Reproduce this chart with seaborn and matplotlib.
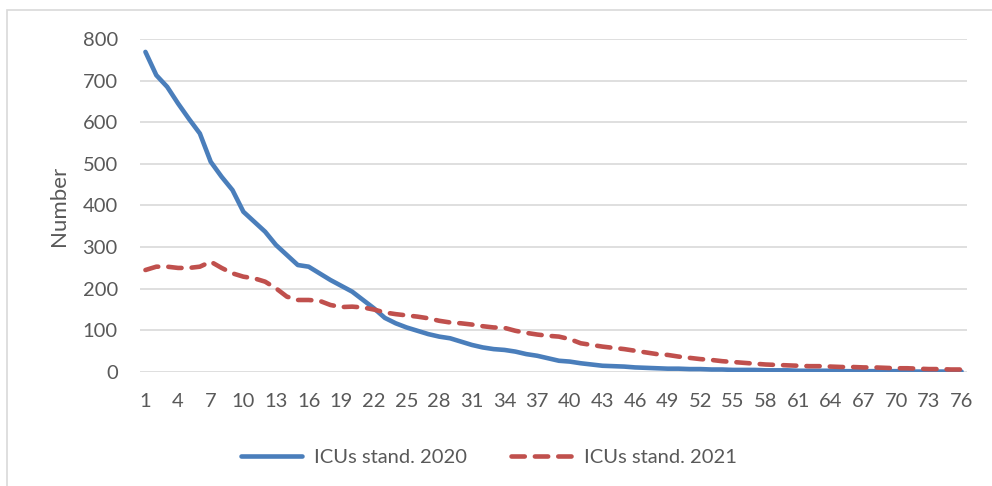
import matplotlib
matplotlib.use("Agg")
import matplotlib.pyplot as plt
import seaborn as sns
import pandas as pd
from matplotlib.patches import Rectangle
from matplotlib.lines import Line2D

# Daily ICU counts, days 1..76
days = list(range(1, 77))
icu_2020 = [769, 713, 685, 645, 608, 573, 505, 469, 437, 385,
            361, 337, 305, 281, 257, 253, 237, 221, 207, 193,
            173, 153, 130, 117, 107, 99, 91, 85, 81, 73,
            65, 59, 55, 53, 49, 43, 39, 33, 27, 25,
            21, 18, 15, 14, 13, 11, 10, 9, 8, 8,
            7, 7, 6, 6, 5, 5, 5, 4, 4, 4,
            3, 3, 3, 3, 2, 2, 2, 2, 2, 2,
            1, 1, 1, 1, 1, 1]
icu_2021 = [245, 253, 253, 250, 250, 253, 265, 250, 237, 229,
            225, 217, 201, 181, 173, 173, 171, 161, 156, 157,
            155, 150, 143, 139, 136, 133, 129, 123, 119, 117,
            114, 110, 107, 106, 99, 94, 90, 87, 85, 79,
            69, 65, 61, 58, 55, 51, 47, 43, 41, 37,
            34, 31, 29, 26, 24, 22, 20, 18, 17, 16,
            15, 14, 14, 13, 12, 12, 11, 11, 10, 9,
            9, 8, 7, 7, 6, 6]
series_names = ["ICUs stand. 2020", "ICUs stand. 2021"]
y_ticks = [0, 100, 200, 300, 400, 500, 600, 700, 800]
x_ticks = list(range(1, 77, 3))

df = pd.DataFrame({
    "day": days * 2,
    "value": icu_2020 + icu_2021,
    "series": [series_names[0]] * len(days) + [series_names[1]] * len(days),
})

sns.set_theme(style="white")
plt.rcParams["font.family"] = ["Lato", "DejaVu Sans"]
plt.rcParams["lines.dash_capstyle"] = "round"
plt.rcParams["lines.solid_capstyle"] = "round"
plt.rcParams["lines.solid_joinstyle"] = "round"

W, H = 992, 486
fig = plt.figure(figsize=(W / 100, H / 100), dpi=100)
ax = fig.add_axes([140 / W, 1 - 372 / H, (967 - 140) / W, (372 - 39) / H])

palette = {series_names[0]: "#4a7ebb", series_names[1]: "#c0504d"}
dash_pattern = (2.9, 2.2)
dashes = {series_names[0]: "", series_names[1]: dash_pattern}
sns.lineplot(data=df, x="day", y="value", hue="series", style="series",
             palette=palette, dashes=dashes, linewidth=3.3, ax=ax,
             legend=False, zorder=3)

ax.set_xlim(0.5, 76.5)
ax.set_ylim(0, 800)
ax.set_yticks(y_ticks)
ax.set_xticks(x_ticks)
ax.set_xticklabels([str(t) for t in x_ticks])
ax.grid(axis="y", color="#d9d9d9", linewidth=1.2)
ax.grid(axis="x", visible=False)
for s in ax.spines.values():
    s.set_visible(False)
ax.tick_params(axis="both", length=0, labelsize=14.5, colors="#595959")
ax.tick_params(axis="y", pad=16)
ax.tick_params(axis="x", pad=15)
ax.set_xlabel("")
ax.set_ylabel("Number", fontsize=16, color="#595959", labelpad=10)

# legend drawn below the axes
handles = [
    Line2D([], [], color=palette[series_names[0]], linewidth=3.3),
    Line2D([], [], color=palette[series_names[1]], linewidth=3.3,
           linestyle=(0, dash_pattern), dash_capstyle="round"),
]
fig.legend(handles, series_names, loc="center", bbox_to_anchor=(489 / W, 1 - 457 / H),
           ncol=2, frameon=False, fontsize=14.5, handlelength=3.0,
           handletextpad=0.6, columnspacing=2.2, labelcolor="#595959")

# thin chart-area border
fig.patches.append(Rectangle((7 / W, -0.1), 1.2, 1 - 10 / H + 0.1,
                             transform=fig.transFigure, fill=False,
                             edgecolor="#d9d9d9", linewidth=1.2))

fig.savefig("out.png", dpi=100)
